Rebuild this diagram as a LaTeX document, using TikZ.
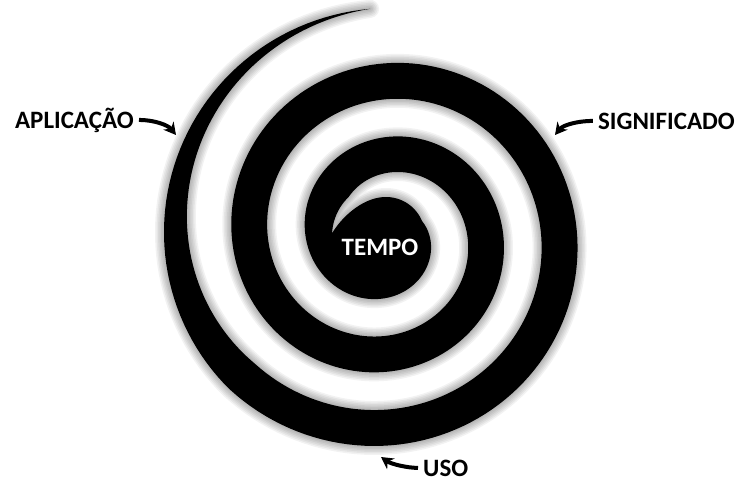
\documentclass[tikz,border=0pt]{standalone}
\usepackage{fontspec}
\setmainfont{Carlito}
\usetikzlibrary{arrows.meta}

\begin{document}
\begin{tikzpicture}[x=1pt, y=-1pt,
        declare function={
          rm(\p)=247-0.205*\p;
          wd(\p)=36*min(1,(\p-94)/130);
          ro(\p)=max(rm(\p)+wd(\p)/2, 39+15*pow(max(0,(\p-1170)/87),3));
          ri(\p)=max(rm(\p)-wd(\p)/2, 54);
        },
        spiral outline/.style={insert path={
          plot[domain=94:1257, samples=500, variable=\t]
            ({386+ro(\t)*cos(\t)}, {236-ro(\t)*sin(\t)})
          -- plot[domain=897:94, samples=400, variable=\t]
            ({386+ri(\t)*cos(\t)}, {236-ri(\t)*sin(\t)}) -- cycle}},
        glow/.style={draw=black, opacity=0.05, line join=round, line width=#1},
        word/.style={font=\fontsize{25}{30}\selectfont\bfseries, inner sep=0pt},
        pointer/.style={-{Stealth[length=12pt, width=13pt]}, line width=4pt,
                        shorten <=5pt}
      ]
      \fill[white] (0,0) rectangle (739,482);
      \useasboundingbox (0,0) rectangle (739,482);

      \foreach \g in {18,15,...,3}
        \path[glow=\g pt, spiral outline];
      \fill[black, spiral outline];

      \node[word, text=white, anchor=base] (tempo) at (380,255) {TEMPO};
      \node[word, anchor=base east] (aplic) at (134,128) {APLICAÇÃO};
      \node[word, anchor=base east] (signif) at (735,129) {SIGNIFICADO};
      \node[word, anchor=base west] (uso) at (423,476) {USO};

      \coordinate (aplicEnd) at (176,135);
      \coordinate (signifEnd) at (555,135);
      \coordinate (usoEnd) at (381,457);

      \draw[pointer] (aplic.east) .. controls +(20,0) and +(-8,-10) .. (aplicEnd);
      \draw[pointer] (signif.west) .. controls +(-20,0) and +(8,-10) .. (signifEnd);
      \draw[pointer] (uso.west) .. controls +(-16,0) and +(10,7) .. (usoEnd);
    \end{tikzpicture}
\end{document}
